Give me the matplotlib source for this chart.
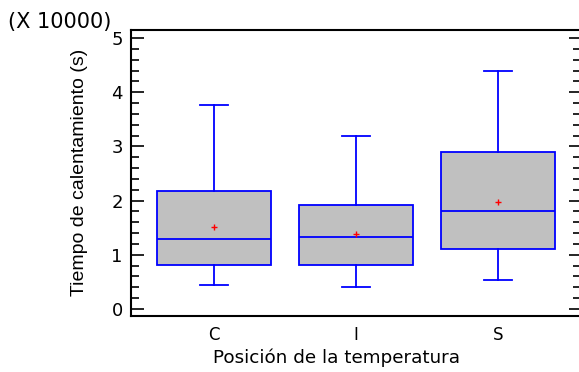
import matplotlib
matplotlib.use("Agg")
import matplotlib.pyplot as plt
from matplotlib.ticker import MultipleLocator

plt.rcParams['font.family'] = ['DejaVu Sans']

# datos (en unidades de 10000 s)
categorias = ["C", "I", "S"]
bigote_inf = [0.44, 0.41, 0.535]
q1 = [0.82, 0.81, 1.10]
mediana = [1.30, 1.32, 1.81]
q3 = [2.18, 1.92, 2.89]
bigote_sup = [3.76, 3.19, 4.40]
media = [1.51, 1.38, 1.98]

stats = []
for i, c in enumerate(categorias):
    stats.append({"label": c, "whislo": bigote_inf[i], "q1": q1[i], "med": mediana[i],
                  "q3": q3[i], "whishi": bigote_sup[i], "mean": media[i], "fliers": []})

fig = plt.figure(figsize=(5.79, 3.72), dpi=100)
ax = fig.add_axes([0.2263, 0.1505, 1.0035 - 0.2263, 0.9194 - 0.1505])

azul = "#0000ff"
ax.bxp(stats, positions=[1, 2, 3], widths=0.8, patch_artist=True, showmeans=True,
       showfliers=False,
       boxprops=dict(facecolor="#c0c0c0", edgecolor=azul, linewidth=1.3),
       medianprops=dict(color=azul, linewidth=1.3),
       whiskerprops=dict(color=azul, linewidth=1.3),
       capprops=dict(color=azul, linewidth=1.3),
       capwidths=0.2,
       meanprops=dict(marker="+", markeredgecolor="red", markersize=5, markeredgewidth=1))

ax.set_xlim(0.415, 3.585)
ax.set_ylim(-0.13, 5.15)

ax.spines["right"].set_visible(False)
for s in ["left", "top", "bottom"]:
    ax.spines[s].set_linewidth(1.5)

ax.yaxis.set_major_locator(MultipleLocator(1))
ax.yaxis.set_minor_locator(MultipleLocator(0.2))
ax.tick_params(axis="y", which="both", direction="in", left=True, right=True,
               labelsize=13, width=1.2, pad=6)
ax.tick_params(axis="y", which="major", length=9)
ax.tick_params(axis="y", which="minor", length=6)
ax.tick_params(axis="x", length=0, labelsize=12, pad=7)

fig.text(80 / 579, 0.536, "Tiempo de calentamiento (s)", rotation=90, fontsize=14,
         family="Liberation Sans", ha="center", va="center")
fig.text(0.581, 0.024, "Posición de la temperatura", fontsize=13.2,
         ha="center", va="baseline")
fig.text(0.0138, 0.9247, "(X 10000)", fontsize=15, ha="left", va="baseline")

fig.savefig("out.png", dpi=100)
